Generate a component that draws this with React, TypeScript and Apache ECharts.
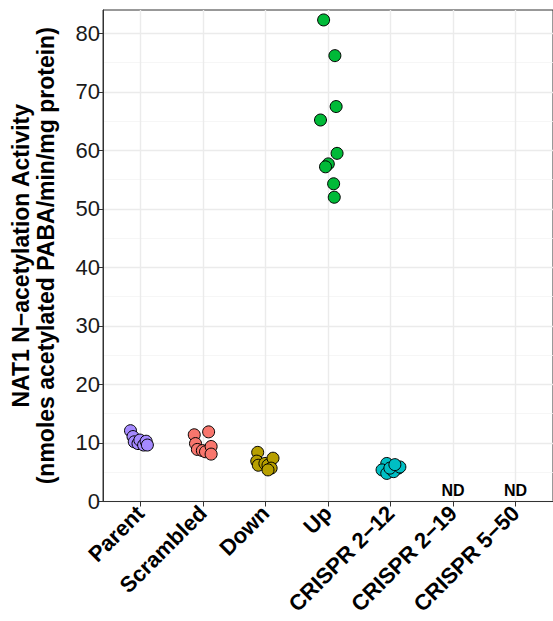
import React, { useEffect, useRef } from 'react';
import * as echarts from 'echarts';

const categories = ['Parent', 'Scrambled', 'Down', 'Up', 'CRISPR 2\u221212', 'CRISPR 2\u221219', 'CRISPR 5\u221250'];
const yTicks = [0, 10, 20, 30, 40, 50, 60, 70, 80];
const yMinorTicks = [5, 15, 25, 35, 45, 55, 65, 75];

const parentValues = [12.1, 11.1, 10.2, 9.9, 10.5, 9.65, 10.3, 9.65];
const parentJitter = [-0.16, -0.12, -0.1, -0.04, -0.01, 0.05, 0.09, 0.11];
const scrambledValues = [11.4, 11.9, 9.9, 8.9, 8.7, 8.5, 9.4, 8.1];
const scrambledJitter = [-0.14, 0.09, -0.12, -0.09, -0.01, 0.04, 0.13, 0.13];
const downValues = [8.4, 6.9, 6.2, 6.5, 6.2, 7.4, 5.7, 5.4];
const downJitter = [-0.125, -0.14, -0.115, -0.01, 0.04, 0.12, 0.09, 0.04];
const upValues = [82.3, 76.2, 67.5, 65.2, 59.5, 57.7, 57.2, 54.3, 52.0];
const upJitter = [-0.07, 0.11, 0.13, -0.12, 0.145, 0.005, -0.04, 0.09, 0.1];
const crispr212Values = [6.5, 5.7, 5.4, 4.8, 5.1, 5.9, 5.7, 6.3];
const crispr212Jitter = [-0.06, 0.125, -0.135, -0.06, 0.05, 0.15, -0.01, 0.07];
const ndCategories = ['CRISPR 2\u221219', 'CRISPR 5\u221250'];
const ndLabelValue = 1.95;

const groupColors: Record<string, string> = {
  Parent: '#A58AFF',
  Scrambled: '#F8766D',
  Down: '#B79F00',
  Up: '#00BA38',
  'CRISPR 2\u221212': '#00BFC4',
};

const groups = [
  { name: 'Parent', values: parentValues, jitter: parentJitter },
  { name: 'Scrambled', values: scrambledValues, jitter: scrambledJitter },
  { name: 'Down', values: downValues, jitter: downJitter },
  { name: 'Up', values: upValues, jitter: upJitter },
  { name: 'CRISPR 2\u221212', values: crispr212Values, jitter: crispr212Jitter },
];

const FONT = 'Liberation Sans, Arial, Helvetica, sans-serif';

export default function App() {
  const ref = useRef<HTMLDivElement>(null);
  useEffect(() => {
    document.body.style.margin = '0';
    if (!ref.current) return;
    const chart = echarts.init(ref.current, undefined, { renderer: 'svg' });
    const catPos = (name: string) => categories.indexOf(name) + 1;
    const option: any = {
      animation: false,
      grid: {
        left: 100,
        right: -7,
        top: 10,
        bottom: 119.5,
        show: true,
        borderColor: '#333333',
        borderWidth: 1,
        backgroundColor: 'transparent',
      },
      xAxis: {
        type: 'value',
        min: 0.4,
        max: 7.6,
        axisLine: { show: true, onZero: false, lineStyle: { color: '#333333', width: 1 } },
        axisTick: {
          show: true,
          customValues: categories.map((_, i) => i + 1),
          length: 5,
          lineStyle: { color: '#333333', width: 1 },
        },
        axisLabel: {
          customValues: categories.map((_, i) => i + 1),
          formatter: (v: number) => categories[Math.round(v) - 1] ?? '',
          rotate: 45,
          fontSize: 22,
          fontWeight: 'bold',
          color: '#000000',
          fontFamily: FONT,
          margin: 8,
        },
        splitLine: { show: true, lineStyle: { color: '#ebebeb', width: 1.4 } },
      },
      yAxis: [
        {
          type: 'value',
          min: 0,
          max: 84,
          position: 'left',
          axisLine: { show: true, lineStyle: { color: '#333333', width: 1 } },
          axisTick: { show: true, customValues: yTicks, length: 5, lineStyle: { color: '#333333' } },
          axisLabel: { customValues: yTicks, fontSize: 22, color: '#1a1a1a', fontFamily: FONT, margin: 3 },
          splitLine: { show: true, lineStyle: { color: '#ebebeb', width: 1.4 } },
          name: 'NAT1 N\u2212acetylation Activity\n(nmoles acetylated PABA/min/mg protein)',
          nameLocation: 'middle',
          nameGap: 45,
          nameTextStyle: {
            fontSize: 23,
            fontWeight: 'bold',
            color: '#000000',
            fontFamily: FONT,
            lineHeight: 25,
          },
        },
        {
          type: 'value',
          min: 0,
          max: 84,
          position: 'left',
          axisLine: { show: false },
          axisTick: { show: false, customValues: yMinorTicks },
          axisLabel: { show: false, customValues: yMinorTicks },
          splitLine: { show: true, lineStyle: { color: '#f4f4f4', width: 0.8 } },
        },
      ],
      series: [
        ...groups.map((g) => ({
          type: 'scatter',
          name: g.name,
          yAxisIndex: 0,
          data: g.values.map((v, i) => [catPos(g.name) + g.jitter[i], v]),
          symbol: 'circle',
          symbolSize: 12,
          itemStyle: { color: groupColors[g.name], borderColor: '#000000', borderWidth: 1, opacity: 1 },
          z: 3,
        })),
        {
          type: 'scatter',
          name: 'ND',
          yAxisIndex: 0,
          data: ndCategories.map((c) => [catPos(c), ndLabelValue]),
          symbolSize: 1,
          itemStyle: { color: 'transparent', borderWidth: 0 },
          label: {
            show: true,
            position: 'inside',
            formatter: 'ND',
            fontSize: 16,
            fontWeight: 'bold',
            color: '#000000',
            opacity: 1,
            fontFamily: FONT,
          },
          silent: true,
          z: 4,
        },
      ],
    };
    chart.setOption(option);
    return () => chart.dispose();
  }, []);
  return <div ref={ref} style={{ width: 553, height: 621 }} />;
}
